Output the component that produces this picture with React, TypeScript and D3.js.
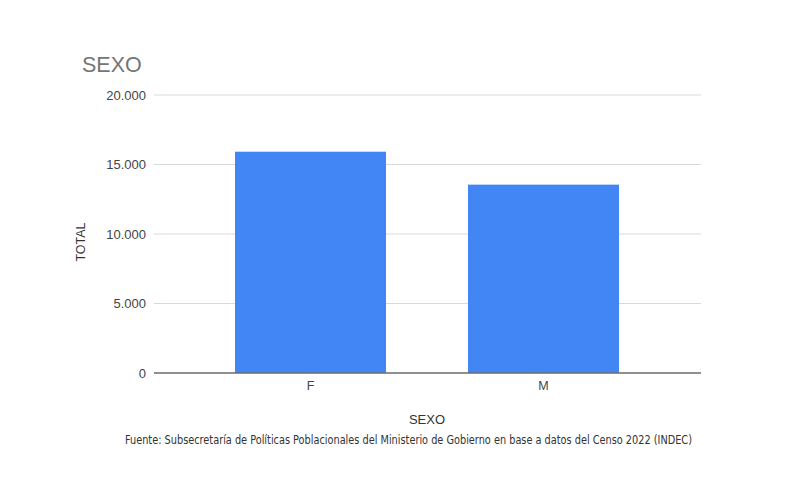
import React from 'react';
import * as d3 from 'd3';

const categories = ['F', 'M'];
const totals = [15920, 13550];
const yTicks = [0, 5000, 10000, 15000, 20000];

const chartTitle = 'SEXO';
const xTitle = 'SEXO';
const yTitle = 'TOTAL';
const source =
  'Fuente: Subsecretaría de Políticas Poblacionales del Ministerio de Gobierno en base a datos del Censo 2022 (INDEC)';

const W = 790;
const H = 498;
const gridLeft = 154;
const gridRight = 701;

const fmt = (v: number) => d3.format(',')(v).replace(/,/g, '.');

const App: React.FC = () => {
  const y = d3.scaleLinear().domain([0, 20000]).range([373, 95]);
  const x = d3
    .scaleBand<string>()
    .domain(categories)
    .range([194, 660])
    .paddingInner(0.352)
    .paddingOuter(0.176);

  return (
    <svg
      width={W}
      height={H}
      style={{ position: 'absolute', left: 0, top: 0, background: '#fff' }}
      fontFamily="'Liberation Sans', Arial, sans-serif"
    >
      <text x={82} y={72} fontSize={21.5} fill="#757575">
        {chartTitle}
      </text>

      {/* gridlines + tick labels */}
      {yTicks.map((t) => (
        <g key={t}>
          {t !== 0 && (
            <line
              x1={gridLeft}
              x2={gridRight}
              y1={y(t)}
              y2={y(t)}
              stroke="#d9d9d9"
              strokeWidth={1}
            />
          )}
          <text
            x={146}
            y={y(t)}
            dy="0.35em"
            textAnchor="end"
            fontSize={13}
            fill="#444"
          >
            {fmt(t)}
          </text>
        </g>
      ))}

      {categories.map((c, i) => (
        <rect
          key={c}
          x={x(c)}
          y={y(totals[i])}
          width={x.bandwidth()}
          height={y(0) - y(totals[i])}
          fill="#4285f4"
        />
      ))}

      <line
        x1={gridLeft}
        x2={gridRight}
        y1={y(0)}
        y2={y(0)}
        stroke="#6b6b6b"
        strokeWidth={1.5}
      />

      {categories.map((c) => (
        <text
          key={c}
          x={(x(c) ?? 0) + x.bandwidth() / 2}
          y={390}
          textAnchor="middle"
          fontSize={12.5}
          fill="#444"
        >
          {c}
        </text>
      ))}

      <text x={427} y={424} textAnchor="middle" fontSize={13} fill="#333">
        {xTitle}
      </text>

      <text
        transform="translate(85,242) rotate(-90)"
        textAnchor="middle"
        fontSize={12.5}
        fill="#333"
      >
        {yTitle}
      </text>

      <text
        x={125}
        y={444}
        fontSize={12.5}
        fill="#333"
        textLength={567}
        lengthAdjust="spacingAndGlyphs"
        fontFamily="'Liberation Sans Narrow', 'DejaVu Sans Condensed', 'Roboto', sans-serif"
      >
        {source}
      </text>
    </svg>
  );
};

export default App;
